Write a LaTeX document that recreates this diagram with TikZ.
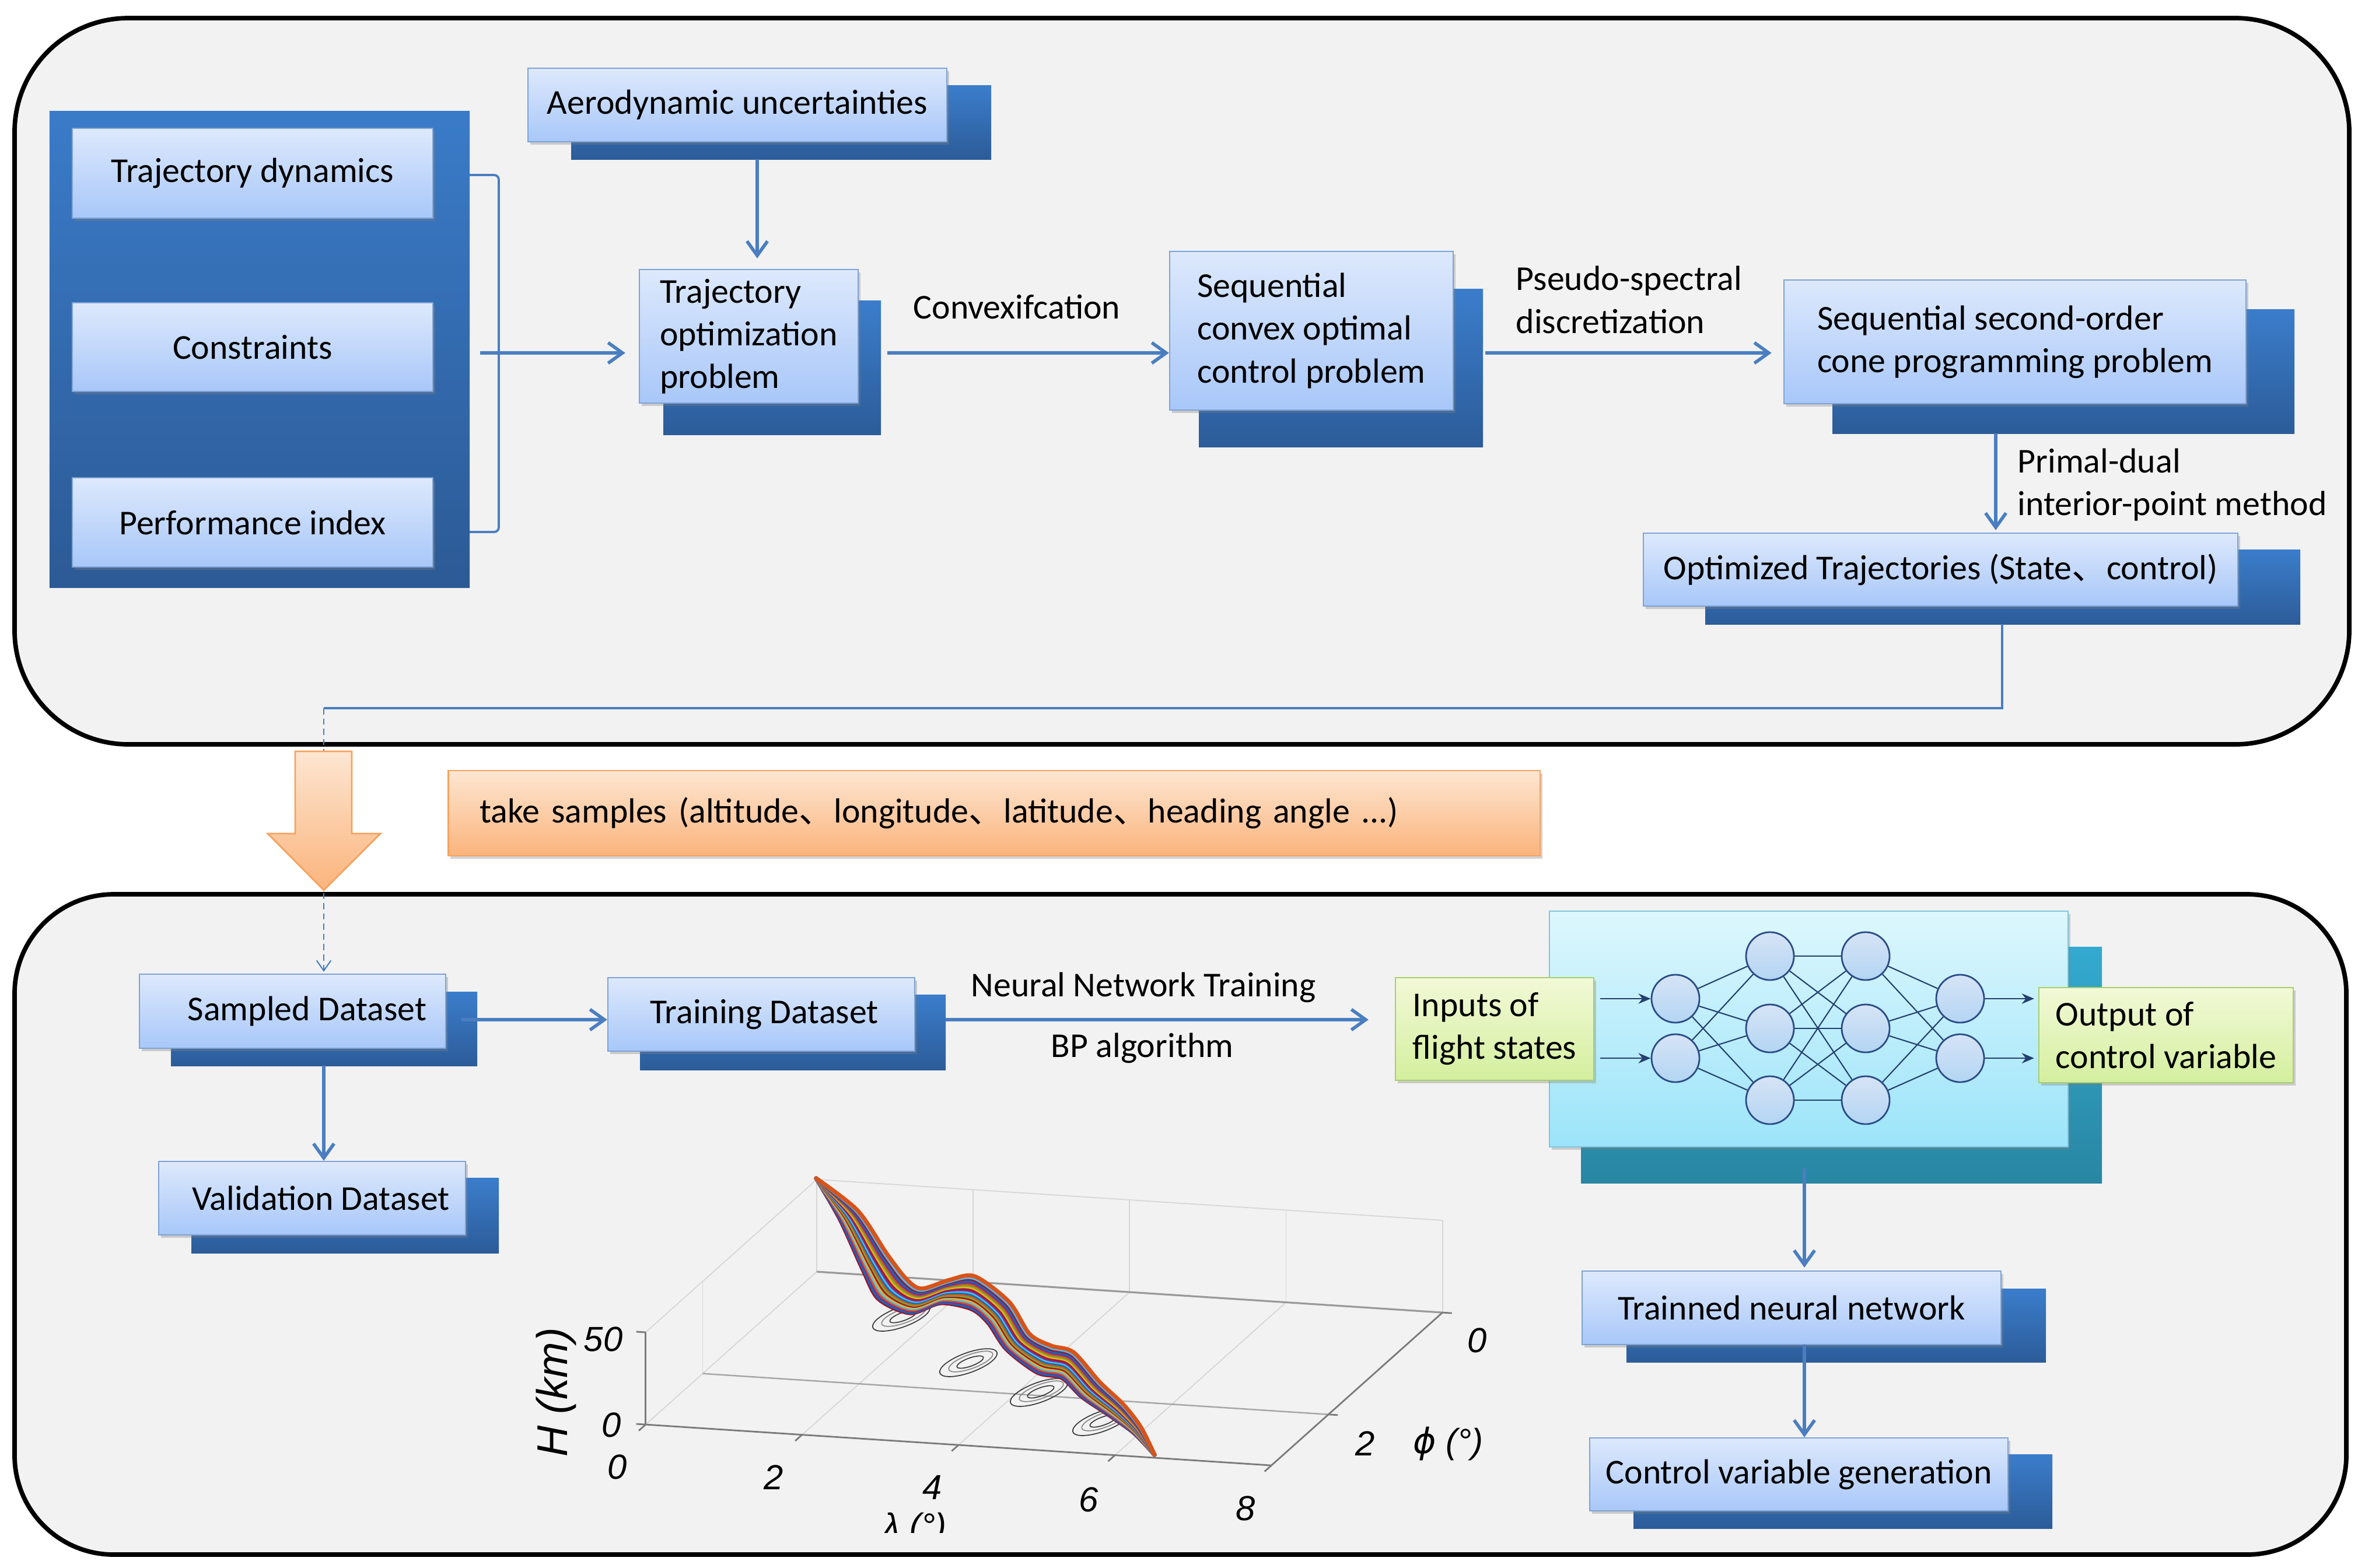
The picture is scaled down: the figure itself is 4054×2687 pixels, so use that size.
\documentclass[tikz,border=0pt]{standalone}
\usepackage{fontspec}
\setmainfont{Carlito}
\newfontfamily\cjk{Noto Sans CJK SC}
\newfontfamily\plotf{Liberation Sans}
\newfontfamily\dejav{DejaVu Sans}
\usetikzlibrary{arrows.meta,shadows}
\definecolor{panelfill}{HTML}{F2F2F2}
\definecolor{boxtop}{HTML}{DDE9FC}
\definecolor{boxbot}{HTML}{A8C7F9}
\definecolor{boxedge}{HTML}{7EA3D6}
\definecolor{stacktop}{HTML}{3B7DCB}
\definecolor{stackbot}{HTML}{2C5C99}
\definecolor{lbgtop}{HTML}{3A7BC8}
\definecolor{lbgbot}{HTML}{2C5A95}
\definecolor{arrowblue}{HTML}{4A7EC0}
\definecolor{ortop}{HTML}{FDE6D2}
\definecolor{orbot}{HTML}{FBB47C}
\definecolor{oredge}{HTML}{F5A35F}
\definecolor{nntop}{HTML}{DDF7FD}
\definecolor{nnbot}{HTML}{9CE4FA}
\definecolor{nnedge}{HTML}{7CC6E0}
\definecolor{nnstop}{HTML}{34AAD0}
\definecolor{nnsbot}{HTML}{2886A2}
\definecolor{gtop}{HTML}{F2F9D7}
\definecolor{gbot}{HTML}{D4EF9E}
\definecolor{gedge}{HTML}{A9CF6A}
\definecolor{neutop}{HTML}{D6E4F6}
\definecolor{neubot}{HTML}{B3D5F3}
\definecolor{neuedge}{HTML}{2B4C86}
\definecolor{nnline}{HTML}{24406E}
\definecolor{gridc}{HTML}{D6D6D6}
\definecolor{axisc}{HTML}{7A7A7A}
\definecolor{mc0}{RGB}{0,114,189}
\definecolor{mc1}{RGB}{217,83,25}
\definecolor{mc2}{RGB}{237,177,32}
\definecolor{mc3}{RGB}{126,47,142}
\definecolor{mc4}{RGB}{119,172,48}
\definecolor{mc5}{RGB}{77,190,238}
\definecolor{mc6}{RGB}{162,20,47}
\newcommand\mainfs{\fontsize{17}{20.8}\selectfont}
\newcommand\ideocomma{{\cjk 、}}
\begin{document}
\begin{tikzpicture}[x=0.01cm,y=-0.01cm,
  panel/.style={draw=black, line width=2.2pt, fill=panelfill},
  leftbg/.style={top color=lbgtop, bottom color=lbgbot, inner sep=0pt},
  bbox/.style={draw=boxedge, line width=0.6pt, top color=boxtop, bottom color=boxbot,
    inner sep=0pt, align=center, font=\mainfs,
    drop shadow={opacity=0.35, shadow xshift=0.04cm, shadow yshift=-0.05cm}},
  stack/.style={top color=stacktop, bottom color=stackbot},
  nnstack/.style={top color=nnstop, bottom color=nnsbot},
  gbox/.style={bbox, draw=gedge, top color=gtop, bottom color=gbot, align=left},
  nnbox/.style={bbox, draw=nnedge, top color=nntop, bottom color=nnbot},
  obox/.style={bbox, draw=oredge, top color=ortop, bottom color=orbot, align=left},
  lbl/.style={font=\mainfs, inner sep=0pt},
  arr/.style={draw=arrowblue, line width=1.6pt, -{Straight Barb[length=7pt,width=10pt]}},
  conn/.style={draw=arrowblue, line width=1.1pt},
  dashl/.style={draw=arrowblue, line width=0.6pt, dash pattern=on 3pt off 2pt, -{Straight Barb[length=5pt,width=7pt]}},
  neuron/.style={circle, draw=neuedge, line width=0.8pt, top color=neutop, bottom color=neubot, minimum size=0.82cm, inner sep=0pt},
  nnl/.style={draw=nnline, line width=0.6pt},
  nnarr/.style={draw=nnline, line width=0.8pt, -{Stealth[length=6pt,width=5pt]}},
  gridl/.style={draw=gridc, line width=0.5pt},
  axisl/.style={draw=axisc, line width=0.8pt},
  nfz/.style={draw=black!75, line width=0.5pt},
  tick/.style={font=\plotf\itshape\fontsize{17}{17}\selectfont, inner sep=0pt}
]
\useasboundingbox (0,0) rectangle (4054,2687);
\fill[white] (0,0) rectangle (4054,2687);

% panels
\draw[panel, rounded corners=1.95cm] (25,31) rectangle (4027,1276);
\draw[panel, rounded corners=1.7cm] (25,1533) rectangle (4022,2665);

% ---------- top panel ----------
\node[leftbg, minimum width=7.20cm, minimum height=8.16cm] (lbg) at (445,599) {};
\node[bbox, minimum width=6.18cm, minimum height=1.54cm] (td) at (433,297) {Trajectory dynamics};
\node[bbox, minimum width=6.18cm, minimum height=1.52cm] (con) at (433,595) {Constraints};
\node[bbox, minimum width=6.18cm, minimum height=1.53cm] (pi) at (433,895.5) {Performance index};

\path[stack] (979,146) rectangle (1699,273);
\node[bbox, minimum width=7.18cm, minimum height=1.26cm] (aero) at (1264,180) {Aerodynamic uncertainties};

\path[stack] (1137,515) rectangle (1510,745);
\node[bbox, align=left, minimum width=3.75cm, minimum height=2.29cm] (top) at (1283.5,576.5) {Trajectory\\optimization\\problem};

\path[stack] (2055,495) rectangle (2542,766);
\node[bbox, align=left, minimum width=4.86cm, minimum height=2.72cm] (scocp) at (2248,567) {Sequential\\convex optimal\\control problem};

\path[stack] (3141,530) rectangle (3933,743);
\node[bbox, align=left, minimum width=7.92cm, minimum height=2.12cm] (ssocp) at (3454,586) {Sequential second-order\\cone programming problem};

\path[stack] (2923,942) rectangle (3943,1070);
\node[bbox, minimum width=10.19cm, minimum height=1.25cm] (ot) at (3326.5,976.5) {Optimized Trajectories (State\ideocomma control)};

% labels top
\node[lbl] (lconv) at (1743,526) {Convexifcation};
\node[lbl, anchor=west, align=left] (lpseudo) at (2598,514) {Pseudo-spectral\\discretization};
\node[lbl, anchor=west, align=left] (lprimal) at (3458,831) {Primal-dual\\interior-point method};

% connectors top
\coordinate (bt) at (805,300);
\coordinate (bb) at (805,912);
\draw[conn, rounded corners=0.08cm] (bt) -- ++(50,0) |- (bb);
\coordinate (bk) at (823,605);
\draw[arr, shorten >=0.23cm] (bk) -- (bk -| top.west);
\coordinate (a1) at (1298,273);
\draw[arr, shorten >=0.18cm] (a1) -- (a1 |- top.north);
\coordinate (t1) at (1521,605);
\draw[arr] (t1) -- (t1 -| scocp.west);
\coordinate (s1) at (2546,605);
\draw[arr, shorten >=0.2cm] (s1) -- (s1 -| ssocp.west);
\coordinate (p1) at (3421,743);
\draw[arr, shorten >=0.04cm] (p1) -- (p1 |- ot.north);

% ---------- bottom panel boxes ----------
\path[stack] (293,1700) rectangle (818,1827);
\node[bbox, minimum width=5.25cm, minimum height=1.27cm] (sd) at (501.5,1733.5) {\hspace*{0.5cm}Sampled Dataset};
\path[stack] (1097,1705) rectangle (1621,1834);
\node[bbox, minimum width=5.26cm, minimum height=1.26cm] (trd) at (1305,1739) {\hspace*{0.1cm}Training Dataset};
\path[stack] (328,2019) rectangle (855,2148);
\node[bbox, minimum width=5.26cm, minimum height=1.26cm] (vd) at (535,2054) {\hspace*{0.3cm}Validation Dataset};

\path[nnstack] (2710,1623) rectangle (3603,2028);
\node[nnbox, minimum width=8.89cm, minimum height=4.04cm] (nn) at (3100.5,1764) {};
\node[gbox, minimum width=3.40cm, minimum height=1.76cm] (inp) at (2562,1764) {Inputs of\\flight states};
\node[gbox, minimum width=4.36cm, minimum height=1.63cm] (out) at (3713,1774.5) {Output of\\control variable};

\path[stack] (2788,2209) rectangle (3507,2335);
\node[bbox, minimum width=7.18cm, minimum height=1.26cm] (tnn) at (3071,2242) {Trainned neural network};
\path[stack] (2800,2493) rectangle (3518,2620);
\node[bbox, minimum width=7.17cm, minimum height=1.25cm] (cvg) at (3083.5,2527.5) {Control variable generation};

% neurons
\foreach \n/\x/\y in {n11/2872/1712, n12/2872/1814,
  n21/3034/1639, n22/3034/1763, n23/3034/1886,
  n31/3198/1639, n32/3198/1763, n33/3198/1886,
  n41/3360/1712, n42/3360/1814}
  \node[neuron] (\n) at (\x,\y) {};
\foreach \a in {n11,n12} \foreach \b in {n21,n22,n23} \draw[nnl] (\a) -- (\b);
\foreach \a in {n21,n22,n23} \foreach \b in {n31,n32,n33} \draw[nnl] (\a) -- (\b);
\foreach \a in {n31,n32,n33} \foreach \b in {n41,n42} \draw[nnl] (\a) -- (\b);
\draw[nnarr, shorten <=0.1cm] (inp.east |- n11) -- (n11);
\draw[nnarr, shorten <=0.1cm] (inp.east |- n12) -- (n12);
\draw[nnarr, shorten >=0.07cm] (n41) -- (n41 -| out.west);
\draw[nnarr, shorten >=0.07cm] (n42) -- (n42 -| out.west);

% labels bottom
\node[lbl] (lnnt) at (1960,1693) {Neural Network Training};
\node[lbl] (lbp) at (1958,1797) {BP algorithm};

% connectors bottom
\coordinate (o1) at (3432,1070);
\coordinate (o2) at (555,1214);
\draw[conn] (o1) |- (o2);
\draw[dashl, shorten >=0.03cm] (o2) -- (o2 |- sd.north);
\coordinate (d1) at (791,1748);
\draw[arr] (d1) -- (d1 -| trd.west);
\coordinate (d2) at (555,1827);
\draw[arr] (d2) -- (d2 |- vd.north);
\coordinate (d3) at (1621,1748);
\draw[arr, shorten >=0.45cm] (d3) -- (d3 -| inp.west);
\coordinate (d4) at (3093,2003);
\draw[arr, shorten >=0.05cm] (d4) -- (d4 |- tnn.north);
\coordinate (d5) at (3093,2305);
\draw[arr] (d5) -- (d5 |- cvg.north);

% orange sample box and arrow
\node[obox, text width=17.62cm, minimum width=18.70cm, minimum height=1.46cm] (samp) at (1704,1394) {take samples (altitude\ideocomma longitude\ideocomma latitude\ideocomma heading angle ...)};
\path[top color=ortop, bottom color=orbot, draw=oredge, line width=0.8pt]
  (506,1288) -- (603,1288) -- (603,1429) -- (652,1429) -- (555,1526) -- (459,1429) -- (506,1429) -- cycle;

% ---------- 3D plot ----------
\begin{scope}[shift={(1400,2180)}, x={(1.34cm,-0.0875cm)}, y={(-0.977cm,-0.873cm)}, z={(0cm,0.0316cm)}]
  \foreach \l in {0,2,4,6} \draw[gridl] (\l,0,0) -- (\l,3,0);
  \foreach \l in {0,2,4,6,8} \draw[gridl] (\l,0,0) -- (\l,0,50);
  \draw[gridl] (0,0,50) -- (8,0,50);
  \draw[gridl] (0,0,50) -- (0,3,50);
  \draw[gridl] (0,2,0) -- (0,2,50);
  \draw[draw=gray!70, line width=0.7pt] (0,2,0) -- (8,2,0);
  \draw[draw=gray!80, line width=0.9pt] (0,0,0) -- (8,0,0);
  \draw[axisl] (0,3,0) -- (0,3,50);
  \draw[axisl] (0,3,0) -- (8,3,0);
  \draw[axisl] (8,3,0) -- (8,0,0);
  \foreach \h in {0,50} \draw[axisl] (0,3,\h) -- ++(-0.12,0,0);
  \foreach \l in {0,2,4,6,8} \draw[axisl] (\l,3,0) -- ++(0,0.12,0);
  \foreach \f in {0,2} \draw[axisl] (8,\f,0) -- ++(0.12,0,0);
\end{scope}

% no-fly zones
\foreach \cx/\cy in {1545/2258, 1660/2336, 1781/2387, 1888/2437}{
  \draw[nfz] (\cx,\cy) ellipse [x radius=0.52cm, y radius=0.17cm, rotate=20];
  \draw[nfz, draw=black!45] ([xshift=0.04cm,yshift=0.02cm]\cx,\cy) ellipse [x radius=0.4cm, y radius=0.12cm, rotate=20];
  \draw[nfz] ([xshift=0.03cm,yshift=0.01cm]\cx,\cy) ellipse [x radius=0.24cm, y radius=0.07cm, rotate=20];
}

% trajectory bundle
\foreach \k/\c in {-10/6,-9/0,-8/3,-7/1,-6/5,-5/2,-4/6,-3/4,-2/1,-1/0,0/5,1/3,2/6,3/2,4/4,5/1,6/3,7/0,8/6,9/5,10/1}{
  \draw[mc\c, line width=2pt, line cap=round, line join=round] plot[smooth, tension=0.5] coordinates {
    (1399,2020)
    ({1455+1.5*\k},{2083-0.8*\k})
    ({1500+2.0*\k},{2164-1.5*\k})
    ({1530+2.4*\k},{2210-1.7*\k})
    ({1570+1.0*\k},{2230-2.1*\k})
    ({1620+0.8*\k},{2214-2.0*\k})
    ({1668+0.3*\k},{2216-2.8*\k})
    ({1712+1.8*\k},{2250-1.8*\k})
    ({1745+2.0*\k},{2300-1.3*\k})
    ({1790+1.2*\k},{2330-2.3*\k})
    ({1830+1.0*\k},{2340-2.2*\k})
    ({1870+1.5*\k},{2382-1.3*\k})
    ({1915+1.1*\k},{2418-1.0*\k})
    ({1950+0.6*\k},{2452-0.5*\k})
    (1979,2494)};
}

% plot labels
\node[tick] (t50) at (1034,2296) {50};
\node[tick] (th0) at (1048,2443) {0};
\node[tick] (tl0) at (1058,2515) {0};
\node[tick] (tl2) at (1326,2533) {2};
\node[tick] (tl4) at (1598,2550) {4};
\node[tick] (tl6) at (1866,2571) {6};
\node[tick] (tl8) at (2135,2586) {8};
\node[tick] (tf0) at (2532,2298) {0};
\node[tick] (tf2) at (2340,2475) {2};
\node[tick] (tfl) at (2482,2475) {{\dejav\itshape ϕ} (°)};
\node[font=\plotf\itshape\fontsize{21}{21}\selectfont, rotate=90, inner sep=0pt] (hlab) at (953,2387) {H (km)};
\begin{scope}
  \clip (1450,2570) rectangle (1700,2627);
  \node[tick, anchor=north] (tll) at (1568,2592) {λ (°)};
\end{scope}
\end{tikzpicture}
\end{document}
